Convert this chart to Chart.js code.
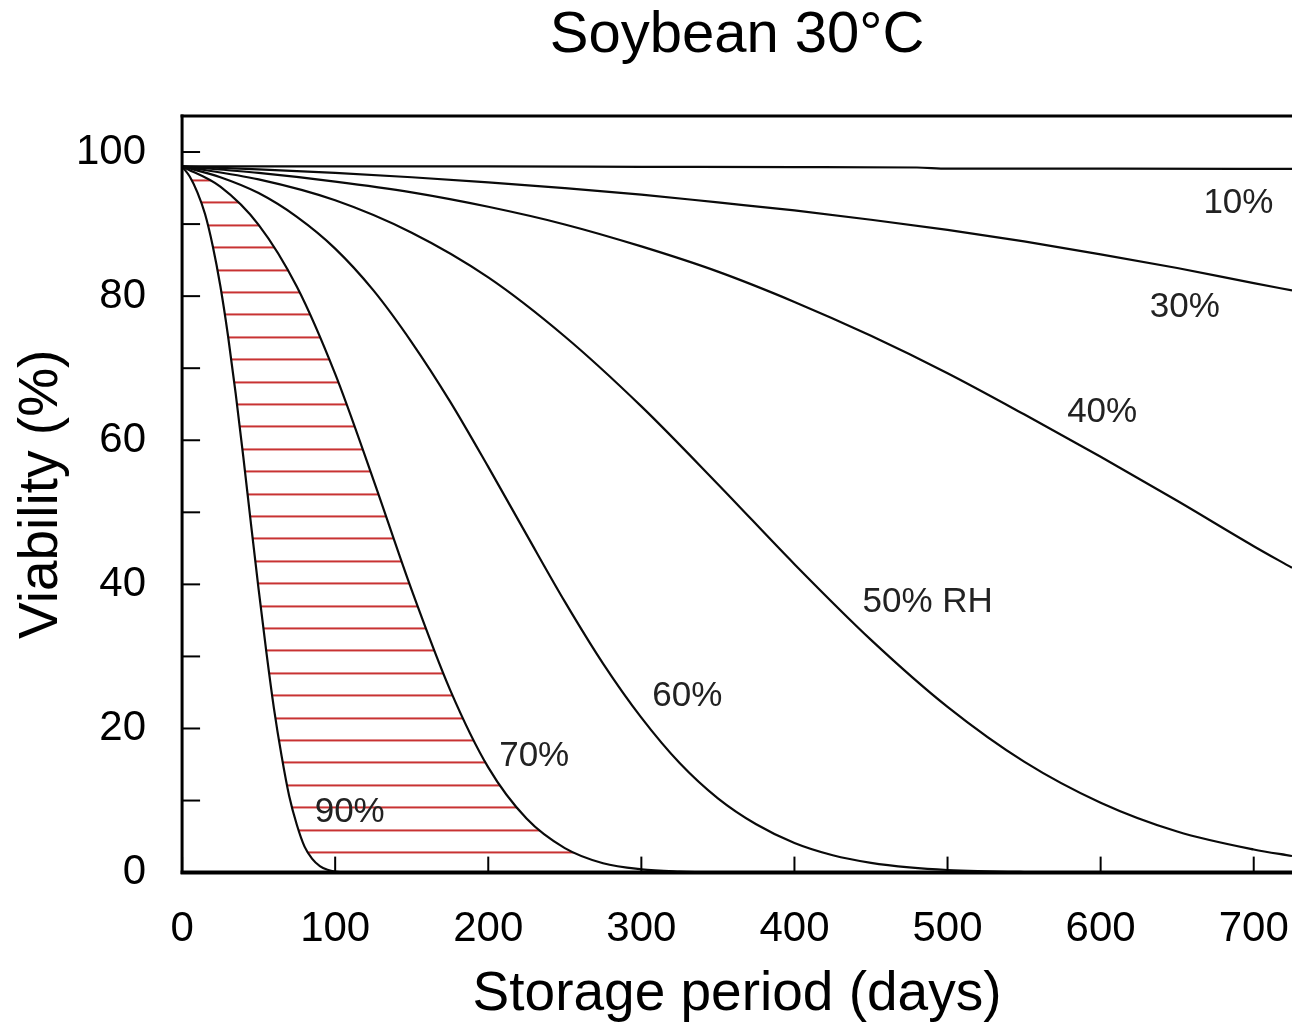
<!DOCTYPE html>
<html>
<head>
<meta charset="utf-8">
<script src="https://cdn.jsdelivr.net/npm/chart.js@4/dist/chart.umd.min.js"></script>
<style>
  html, body { margin: 0; padding: 0; background: #fff; }
  #wrap { width: 1292px; height: 1028px; position: relative; }
</style>
</head>
<body>
<div id="wrap"><canvas id="c"></canvas></div>
<script>
// ---- data ----
const days90 = [0, 5, 10, 15, 20, 25, 30, 35, 40, 45, 50, 55, 60, 65, 70, 75, 80, 85, 90, 95, 100, 110, 120];
const via90  = [98, 96.6, 94.4, 91.4, 87, 81.4, 74.5, 66.5, 57.7, 48.4, 39.3, 30.7, 22.8, 16.2, 10.6, 6.6, 3.6, 1.9, 0.9, 0.4, 0.15, 0, 0];

const days70 = [0, 25, 50, 75, 100, 125, 150, 175, 200, 225, 250, 275, 300, 325, 350, 375];
const via70  = [98, 95.2, 89.9, 81.3, 69.2, 54.5, 39.2, 25.4, 14.6, 7.5, 3.4, 1.3, 0.46, 0.15, 0.03, 0];

const days60 = [0, 25, 50, 75, 100, 125, 150, 175, 200, 225, 250, 275, 300, 325, 350, 375, 400, 425, 450, 475, 500, 550, 600];
const via60  = [98, 96.5, 94.3, 91.0, 86.6, 80.8, 73.6, 65.4, 56.3, 46.9, 37.6, 29.0, 21.5, 15.2, 10.3, 6.7, 4.1, 2.4, 1.35, 0.72, 0.36, 0.08, 0];

const days50 = [0, 50, 100, 150, 200, 250, 300, 350, 400, 450, 500, 550, 600, 650, 700, 725];
const via50  = [98, 96.2, 93.3, 88.8, 82.6, 74.4, 64.7, 53.9, 42.8, 32.3, 23.0, 15.4, 9.7, 5.7, 3.2, 2.3];

const days40 = [0, 50, 100, 150, 200, 250, 300, 350, 400, 450, 500, 550, 600, 650, 700, 725];
const via40  = [98, 97.1, 95.9, 94.4, 92.4, 89.95, 86.9, 83.4, 79.2, 74.5, 69.3, 63.6, 57.7, 51.6, 45.3, 42.3];

const days30 = [0, 50, 100, 150, 200, 250, 300, 350, 400, 450, 500, 550, 600, 650, 700, 725];
const via30  = [98, 97.6, 97.1, 96.5, 95.8, 95.0, 94.1, 93.0, 91.9, 90.6, 89.2, 87.6, 85.8, 83.9, 81.8, 80.8];

const days10 = [0, 100, 200, 300, 400, 480, 500, 600, 725];
const via10  = [98, 98, 98, 97.95, 97.9, 97.85, 97.7, 97.7, 97.65];

// curve labels (text, day, viability)
const curveLabels = ['10%', '30%', '40%', '50% RH', '60%', '70%', '90%'];
const curveLabelDay = [690, 655, 601, 487, 330, 230, 109.5];
const curveLabelVia = [92.9, 78.4, 63.9, 37.5, 24.4, 16.1, 8.4];

// hatch (between 90% and 70% curves) reference level
const hatchBase = [2.8];

const xTickValues = [0, 100, 200, 300, 400, 500, 600, 700];
const yLabelValues = [0, 20, 40, 60, 80, 100];

const titleText = 'Soybean 30°C';
const xTitle = 'Storage period (days)';
const yTitle = 'Viability (%)';

// ---- styles ----
Chart.defaults.font.family = "'Liberation Sans', Arial, sans-serif";
Chart.defaults.color = '#000';

const hatchCanvas = document.createElement('canvas');
hatchCanvas.width = 8; hatchCanvas.height = 112;
const hctx = hatchCanvas.getContext('2d');
hctx.fillStyle = '#c83232';
[0, 22.4, 44.8, 67.2, 89.6].forEach(p => hctx.fillRect(0, Math.round(p), 8, 2));
const hatchPattern = document.createElement('canvas').getContext('2d').createPattern(hatchCanvas, 'repeat');

function pts(xs, ys) { return xs.map((x, i) => ({ x: x, y: ys[i] })); }

const lineStyle = {
  borderColor: '#0a0a0a', borderWidth: 2.2, pointRadius: 0, pointHoverRadius: 0,
  cubicInterpolationMode: 'monotone', fill: false
};

const datasets = [
  Object.assign({}, lineStyle, { label: '90%', data: pts(days90, via90), fill: 'origin', backgroundColor: '#ffffff' }),
  Object.assign({}, lineStyle, { label: '70%', data: pts(days70, via70), fill: 'origin', backgroundColor: hatchPattern }),
  Object.assign({}, lineStyle, { label: '60%', data: pts(days60, via60) }),
  Object.assign({}, lineStyle, { label: '50% RH', data: pts(days50, via50) }),
  Object.assign({}, lineStyle, { label: '40%', data: pts(days40, via40) }),
  Object.assign({}, lineStyle, { label: '30%', data: pts(days30, via30) }),
  Object.assign({}, lineStyle, { label: '10%', data: pts(days10, via10) })
];

const framePlugin = {
  id: 'frame',
  afterLayout(chart) {
    const y0 = chart.scales.y.getPixelForValue(hatchBase[0]);
    hatchPattern.setTransform(new DOMMatrix().translate(0, y0 - 1));
  },
  afterDatasetsDraw(chart) {
    const { ctx, chartArea: a, scales } = chart;
    ctx.save();
    ctx.strokeStyle = '#000';
    ctx.lineCap = 'butt';
    // inner ticks
    ctx.lineWidth = 2;
    scales.y.ticks.forEach(t => {
      const py = scales.y.getPixelForValue(t.value);
      ctx.beginPath(); ctx.moveTo(a.left, py); ctx.lineTo(a.left + 18, py); ctx.stroke();
    });
    scales.x.ticks.forEach(t => {
      const px = scales.x.getPixelForValue(t.value);
      ctx.beginPath(); ctx.moveTo(px, a.bottom); ctx.lineTo(px, a.bottom - 16); ctx.stroke();
    });
    // frame
    ctx.lineWidth = 3;
    ctx.beginPath(); ctx.moveTo(a.left, a.top - 1.5); ctx.lineTo(a.left, a.bottom + 1.5); ctx.stroke();
    ctx.beginPath(); ctx.moveTo(a.left - 1.5, a.top); ctx.lineTo(a.right, a.top); ctx.stroke();
    ctx.lineWidth = 4;
    ctx.beginPath(); ctx.moveTo(a.left - 1.5, a.bottom); ctx.lineTo(a.right, a.bottom); ctx.stroke();
    // curve labels
    ctx.fillStyle = '#222';
    ctx.font = "35px 'Liberation Sans', Arial, sans-serif";
    ctx.textAlign = 'center';
    ctx.textBaseline = 'middle';
    curveLabels.forEach((txt, i) => {
      ctx.fillText(txt, scales.x.getPixelForValue(curveLabelDay[i]), scales.y.getPixelForValue(curveLabelVia[i]));
    });
    ctx.restore();
  }
};

new Chart(document.getElementById('c'), {
  type: 'line',
  data: { datasets: datasets },
  options: {
    responsive: true,
    maintainAspectRatio: false,
    animation: false,
    events: [],
    layout: { padding: { left: 0, right: 0, top: 0, bottom: 0 } },
    plugins: {
      legend: { display: false },
      tooltip: { enabled: false },
      filler: { drawTime: 'beforeDatasetsDraw' },
      title: {
        display: true, text: titleText, fullSize: false, color: '#000',
        font: { size: 58, weight: 'normal', lineHeight: 1 },
        padding: { top: 7, bottom: 51 }
      }
    },
    scales: {
      x: {
        type: 'linear', min: 0, max: 725,
        afterBuildTicks(scale) { scale.ticks = xTickValues.map(v => ({ value: v })); },
        afterFit(scale) { scale.paddingLeft = 0; scale.paddingRight = 0; scale.height -= 32; },
        ticks: { font: { size: 42 }, color: '#000', padding: 32, autoSkip: false, maxRotation: 0, includeBounds: false },
        grid: { display: false, drawTicks: false },
        border: { display: false },
        title: { display: true, text: xTitle, color: '#000', font: { size: 55 }, padding: { top: 7, bottom: 0 } }
      },
      y: {
        type: 'linear', min: 0, max: 105,
        afterFit(scale) { scale.paddingTop = 0; scale.paddingBottom = 0; scale.width -= 36; },
        ticks: {
          stepSize: 10, includeBounds: false, autoSkip: false,
          font: { size: 42 }, color: '#000', padding: 36,
          callback: (v) => yLabelValues.includes(v) ? String(v) : ''
        },
        grid: { display: false, drawTicks: false },
        border: { display: false },
        title: { display: true, text: yTitle, color: '#000', font: { size: 55 }, padding: { top: 9, bottom: 1 } }
      }
    }
  },
  plugins: [framePlugin]
});
</script>
</body>
</html>
